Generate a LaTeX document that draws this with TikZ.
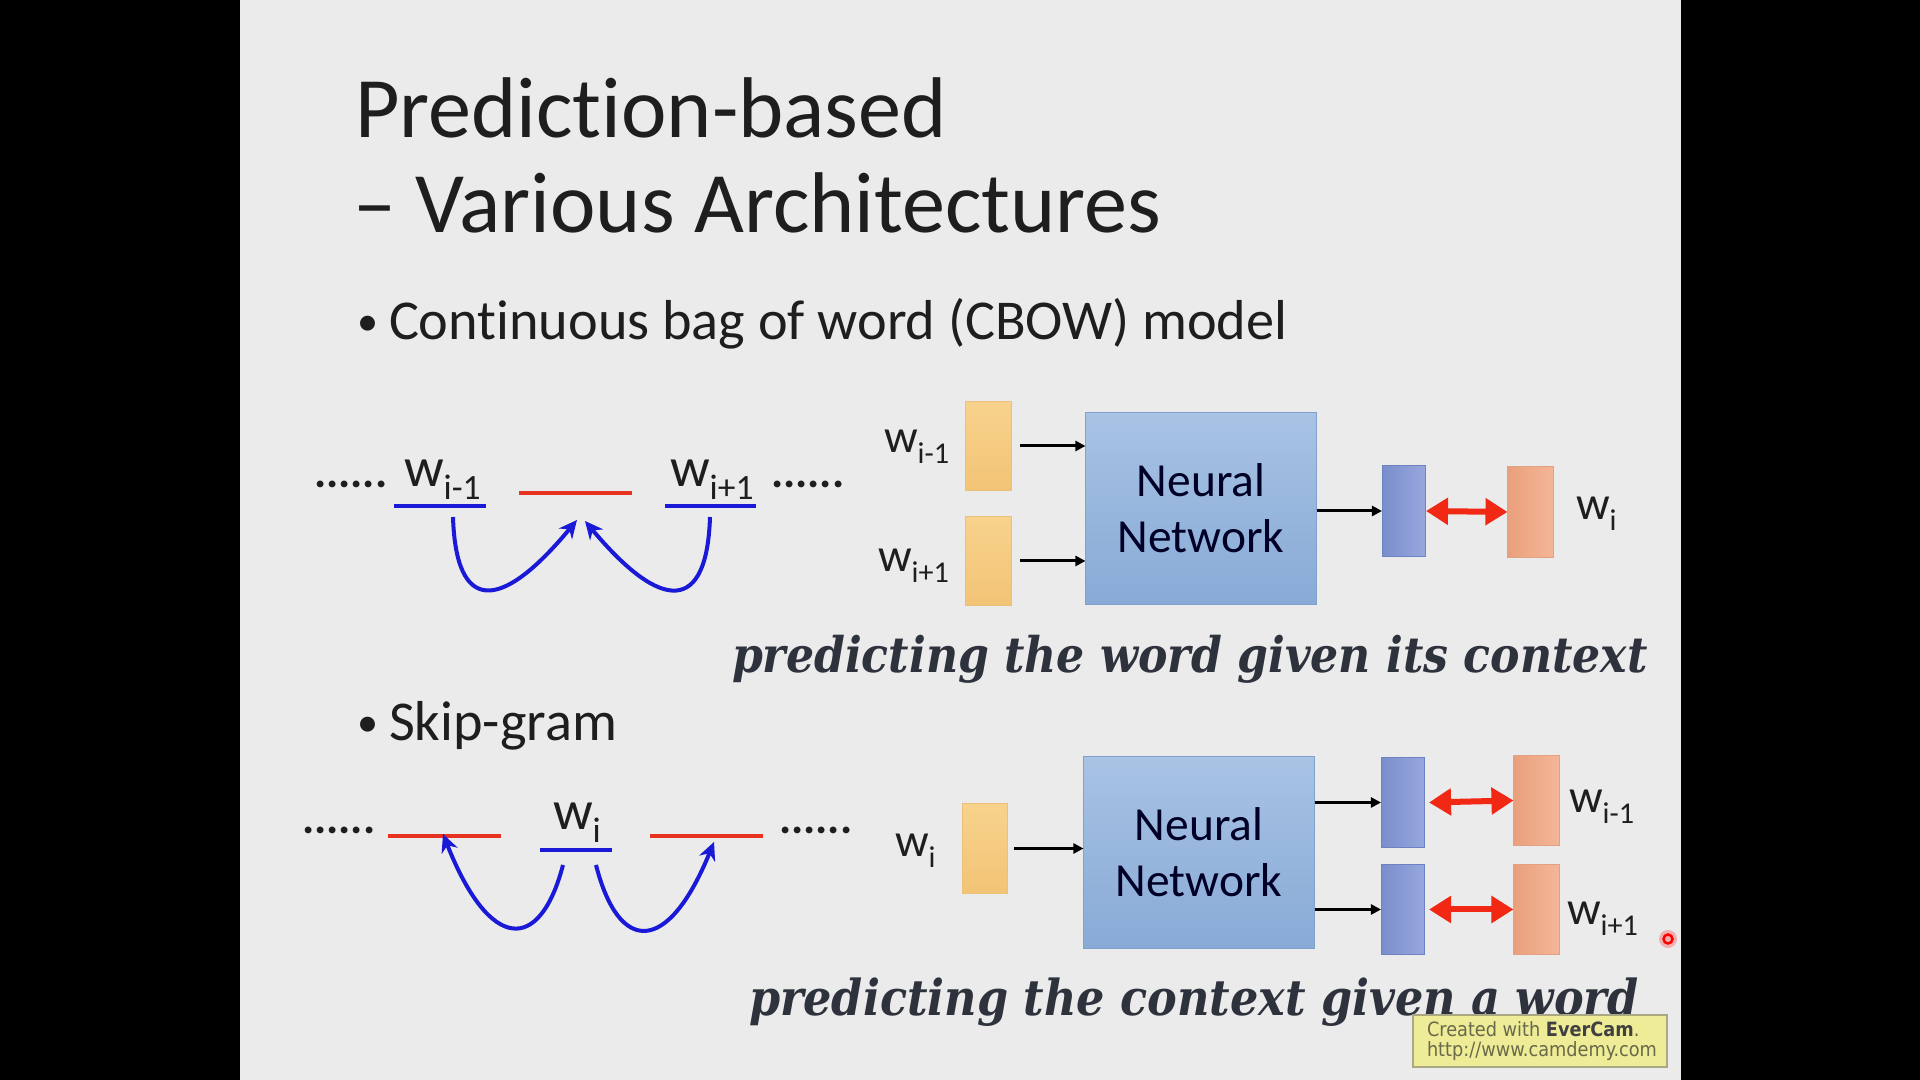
\documentclass[tikz,border=0pt]{standalone}
\usepackage{fontspec}
\setmainfont{Carlito}[Ligatures=NoCommon]
\newfontfamily\capfont{DejaVu Serif Condensed}
\newfontfamily\wmfont{DejaVu Sans Condensed}
\usepackage{graphicx}
\usetikzlibrary{arrows.meta}
\definecolor{slidebg}{RGB}{235,235,235}
\definecolor{titlecol}{RGB}{30,30,30}
\definecolor{capcol}{RGB}{45,50,60}
\definecolor{wblue}{RGB}{25,25,215}
\definecolor{wred}{RGB}{230,50,30}
\definecolor{orT}{RGB}{248,210,140}
\definecolor{orB}{RGB}{242,196,118}
\definecolor{orD}{RGB}{236,192,120}
\definecolor{nnT}{RGB}{168,195,228}
\definecolor{nnB}{RGB}{136,170,214}
\definecolor{nnD}{RGB}{128,160,205}
\definecolor{bbL}{RGB}{122,142,205}
\definecolor{bbR}{RGB}{152,168,222}
\definecolor{bbD}{RGB}{110,130,195}
\definecolor{saL}{RGB}{234,160,124}
\definecolor{saR}{RGB}{244,182,152}
\definecolor{saD}{RGB}{228,160,130}
\definecolor{arred}{RGB}{240,40,20}
\definecolor{wmfill}{RGB}{238,236,150}
\definecolor{wmdraw}{RGB}{170,168,130}
\definecolor{wmtext}{RGB}{105,105,75}
\newcommand\wsub[1]{w\raisebox{-0.22em}{\scalebox{0.64}{#1}}}
\newcommand\fsz[2]{\fontsize{#1}{#2}\selectfont}
\begin{document}
\begin{tikzpicture}[x=0.01cm,y=-0.01cm,
  txt/.style={inner sep=0pt,outer sep=0pt,anchor=base west},
  titlef/.style={txt,text=titlecol,font=\fsz{24.5pt}{29pt}},
  bulf/.style={txt,text=titlecol,font=\fsz{16pt}{19pt}},
  bulletf/.style={txt,text=titlecol,font=\fsz{12pt}{14pt}},
  lblL/.style={txt,text=titlecol,font=\fsz{15.8pt}{19pt}},
  lblR/.style={txt,text=titlecol,font=\fsz{13.4pt}{16pt}},
  dotsf/.style={txt,text=titlecol,font=\fsz{13pt}{16pt}\bfseries},
  bline/.style={draw=wblue,line width=0.045cm},
  rline/.style={draw=wred,line width=0.045cm},
  curv/.style={draw=wblue,line width=0.04cm,-{Stealth[length=0.18cm,width=0.17cm]}},
  obox/.style={draw=orD,top color=orT,bottom color=orB,line width=0.01cm,minimum width=0.45cm,minimum height=0.89cm,inner sep=0pt},
  bbox/.style={draw=bbD,left color=bbL,right color=bbR,line width=0.01cm,minimum width=0.43cm,minimum height=0.9cm,inner sep=0pt},
  sbox/.style={draw=saD,left color=saL,right color=saR,line width=0.01cm,minimum width=0.45cm,minimum height=0.9cm,inner sep=0pt},
  nnbox/.style={draw=nnD,top color=nnT,bottom color=nnB,line width=0.01cm,minimum width=2.3cm,minimum height=1.91cm,inner sep=0pt,align=center,text=black!85!blue,font=\fsz{13.5pt}{15.9pt}},
  blk/.style={draw=black,line width=0.03cm,-{Triangle[length=0.1cm,width=0.1cm]}},
  redarr/.style={draw=arred,line width=0.06cm,{Triangle[length=0.22cm,width=0.26cm]}-{Triangle[length=0.22cm,width=0.26cm]}}
]
\useasboundingbox (0,0) rectangle (1920,1080);
\fill[black] (0,0) rectangle (1920,1080);
\fill[slidebg] (240,0) rectangle (1681,1080);

% title
\node[titlef] (t1) at (355,138) {Prediction-based};
\node[titlef] (t2) at (353,233) {– Various Architectures};

% bullets
\node[bulletf] (b1dot) at (357,336) {•};
\node[bulf] (b1txt) at (389,340) {Continuous bag of word (CBOW) model};
\node[bulletf] (b2dot) at (357,737) {•};
\node[bulf] (b2txt) at (389,741) {Skip-gram};

% ---------- CBOW left ----------
\node[dotsf] (cdl) at (314,488) {......};
\node[lblL] (cwm) at (404,487) {\wsub{i-1}};
\node[lblL] (cwp) at (670,487) {\wsub{i+1}};
\node[dotsf] (cdr) at (771,488) {......};
\coordinate (cbl1) at (394,506); \coordinate (cbl2) at (486,506);
\coordinate (crl1) at (519,493); \coordinate (crl2) at (632,493);
\coordinate (cbr1) at (665,506); \coordinate (cbr2) at (756,506);
\draw[bline] (cbl1) -- (cbl2);
\draw[rline] (crl1) -- (crl2);
\draw[bline] (cbr1) -- (cbr2);
\coordinate (cs1) at (453,517); \coordinate (ct1) at (577,520);
\coordinate (cs2) at (710,517); \coordinate (ct2) at (585,521);
\draw[curv] (cs1) .. controls (456,613) and (500,613) .. (ct1);
\draw[curv] (cs2) .. controls (707,613) and (662,613) .. (ct2);

% ---------- CBOW right ----------
\node[lblR] (lwm) at (884,453) {\wsub{i-1}};
\node[lblR] (lwp) at (878,572) {\wsub{i+1}};
\node[obox] (o1) at (988.5,446) {};
\node[obox] (o2) at (988.5,561) {};
\node[nnbox] (nn1) at (1201,508.5) {Neural\\Network};
\node[bbox] (bb1) at (1404,511) {};
\node[sbox] (sb1) at (1530.5,512) {};
\node[lblR] (lwi) at (1576,520) {\wsub{i}};
\draw[blk] ([xshift=0.08cm]o1.east) -- (o1.east -| nn1.west);
\draw[blk] ([xshift=0.08cm]o2.east) -- (o2.east -| nn1.west);
\draw[blk] (nn1.east |- bb1.west) -- (bb1.west);
\draw[redarr] (bb1.east) -- (sb1.west);

\node[txt,text=capcol] (cap1) at (732,673) {\resizebox{9.15cm}{!}{\capfont\bfseries\itshape\fsz{13pt}{15pt}predicting the word given its context}};

% ---------- Skip-gram left ----------
\node[dotsf] (sdl) at (302,834) {......};
\node[lblL] (swi) at (553,830) {\wsub{i}};
\node[dotsf] (sdr) at (779,834) {......};
\coordinate (srl1) at (388,836); \coordinate (srl2) at (501,836);
\coordinate (sbl1) at (540,850); \coordinate (sbl2) at (612,850);
\coordinate (srr1) at (650,836); \coordinate (srr2) at (763,836);
\draw[rline] (srl1) -- (srl2);
\draw[bline] (sbl1) -- (sbl2);
\draw[rline] (srr1) -- (srr2);
\coordinate (ss1) at (563,865); \coordinate (st1) at (443,834);
\coordinate (ss2) at (596,865); \coordinate (st2) at (714,842);
\draw[curv] (ss1) .. controls (540,953) and (490,953) .. (st1);
\draw[curv] (ss2) .. controls (619,955) and (668,955) .. (st2);

% ---------- Skip-gram right ----------
\node[lblR] (rwi) at (895,857) {\wsub{i}};
\node[obox] (o3) at (985,848.5) {};
\node[nnbox] (nn2) at (1199,852.5) {Neural\\Network};
\node[bbox] (bb2) at (1403,802.5) {};
\node[bbox] (bb3) at (1403,909.5) {};
\node[sbox] (sb2) at (1536.5,800.5) {};
\node[sbox] (sb3) at (1536.5,909.5) {};
\node[lblR] (rwm) at (1569,813) {\wsub{i-1}};
\node[lblR] (rwp) at (1567,925) {\wsub{i+1}};
\draw[blk] ([xshift=0.06cm]o3.east) -- (o3.east -| nn2.west);
\draw[blk] (nn2.east |- bb2.west) -- (bb2.west);
\draw[blk] (nn2.east |- bb3.west) -- (bb3.west);
\draw[redarr] ([xshift=0.04cm]bb2.east) -- (sb2.west);
\draw[redarr] ([xshift=0.04cm]bb3.east) -- (sb3.west);

\node[txt,text=capcol] (cap2) at (749,1016) {\resizebox{8.89cm}{!}{\capfont\bfseries\itshape\fsz{13pt}{15pt}predicting the context given a word}};

% watermark
\node[draw=wmdraw,fill=wmfill,line width=0.015cm,minimum width=2.54cm,minimum height=0.52cm,inner sep=0pt] (wm) at (1540,1041) {};
\node[txt,text=wmtext,font=\wmfont\fsz{5.6pt}{7pt}] (wm1) at (1427,1037) {Created with \textbf{\color{black!75}EverCam}.};
\node[txt,text=wmtext,font=\wmfont\fsz{5.6pt}{7pt}] (wm2) at (1427,1057) {http://www.camdemy.com};

% cursor mark
\fill[red,opacity=0.25] (1668,939) circle (9);
\draw[red,line width=0.025cm] (1668,939) circle (4.5);
\end{tikzpicture}
\end{document}
